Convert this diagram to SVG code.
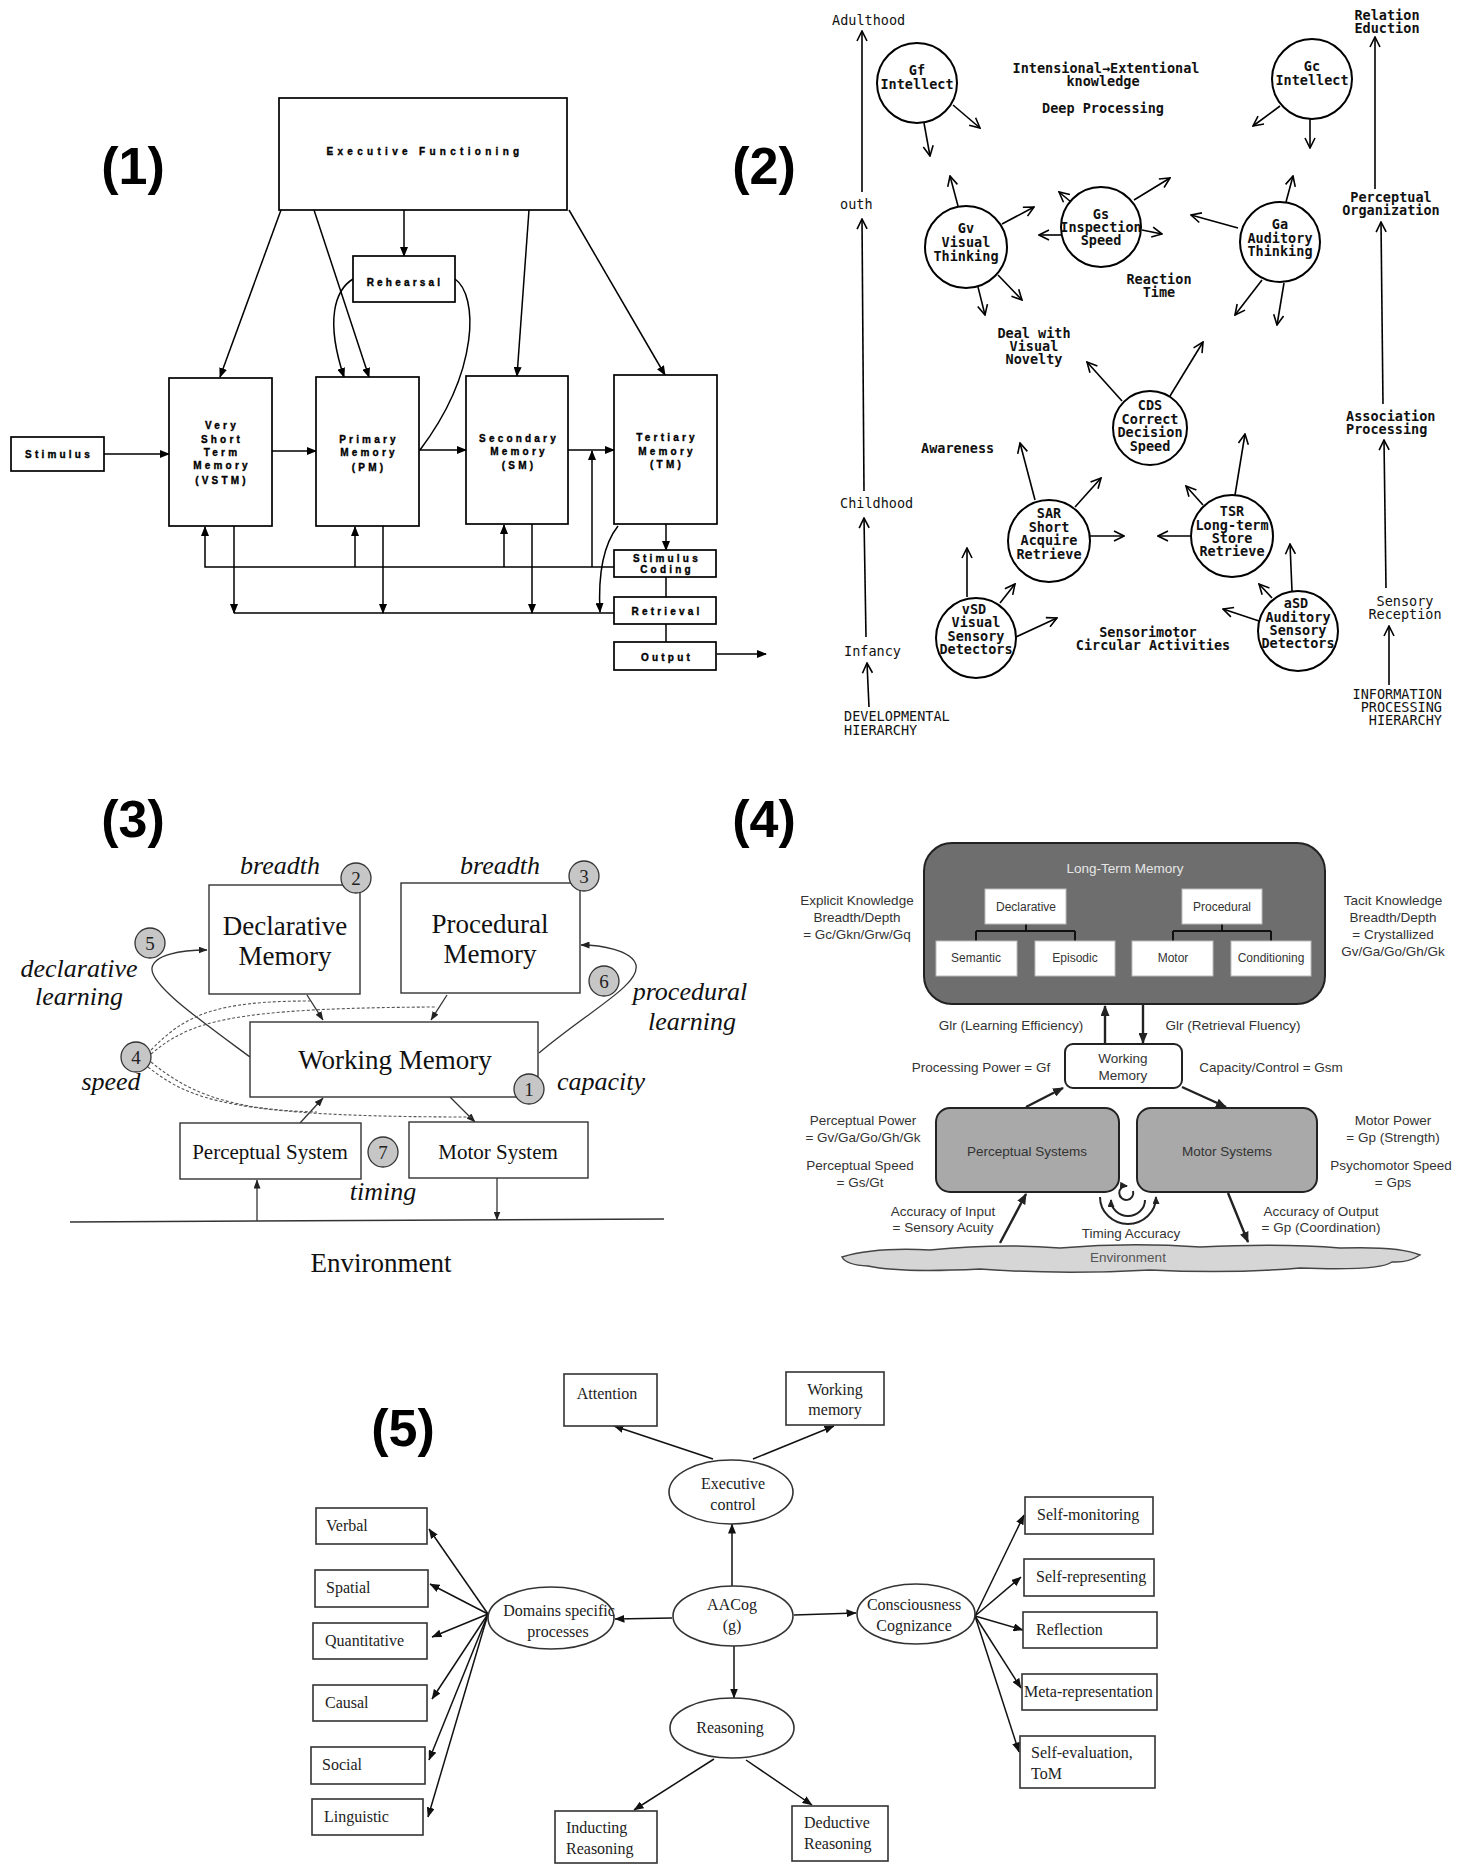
<svg xmlns="http://www.w3.org/2000/svg" width="1463" height="1865" viewBox="0 0 1463 1865">
<defs>
<style>
.lbl{font-family:"Liberation Sans",Arial,sans-serif;font-weight:bold;font-size:52px;text-anchor:middle;fill:#000}
.b1{fill:#fff;stroke:#000;stroke-width:1.7}
.t1{font-family:"Liberation Sans",Arial,sans-serif;font-weight:bold;font-size:10px;letter-spacing:3.2px;text-anchor:middle;fill:#000;stroke:#000;stroke-width:0.35}
.c1{fill:none;stroke:#000;stroke-width:1.5}
.n2{fill:#fff;stroke:#000;stroke-width:2}
.t2{font-family:"DejaVu Sans Mono","Liberation Mono",monospace;font-weight:bold;font-size:13.5px;fill:#111;text-anchor:middle}
.t2n{font-family:"DejaVu Sans Mono","Liberation Mono",monospace;font-size:13.5px;fill:#111}
.c2{fill:none;stroke:#000;stroke-width:1.6}
.b3{fill:#fff;stroke:#333;stroke-width:1.4}
.k3{fill:#c6c6c6;stroke:#333;stroke-width:1.3}
.t3{font-family:"Liberation Serif","Times New Roman",serif;font-size:27px;fill:#111;text-anchor:middle}
.i3{font-family:"Liberation Serif","Times New Roman",serif;font-style:italic;font-size:26px;fill:#111;text-anchor:middle}
.s3{font-family:"Liberation Serif","Times New Roman",serif;font-size:21px;fill:#111;text-anchor:middle}
.n3{font-family:"Liberation Serif","Times New Roman",serif;font-size:19px;fill:#222;text-anchor:middle}
.c3{fill:none;stroke:#333;stroke-width:1.3}
.d3{fill:none;stroke:#555;stroke-width:1.1;stroke-dasharray:3 2}
.t4{font-family:"Liberation Sans",Arial,sans-serif;font-size:13.5px;fill:#333;text-anchor:middle}
.s4{font-family:"Liberation Sans",Arial,sans-serif;font-size:12px;fill:#333;text-anchor:middle}
.wb4{fill:#fff;stroke:#bbb;stroke-width:1}
.c4{fill:none;stroke:#222;stroke-width:2.4}
.b5{fill:#fff;stroke:#333;stroke-width:1.6}
.t5{font-family:"Liberation Serif","Times New Roman",serif;font-size:16px;fill:#222}
.m5{font-family:"Liberation Serif","Times New Roman",serif;font-size:16px;fill:#222;text-anchor:middle}
.c5{fill:none;stroke:#111;stroke-width:1.5}
</style>
<marker id="a1" viewBox="0 0 10 8" refX="9" refY="4" markerWidth="10" markerHeight="8" markerUnits="userSpaceOnUse" orient="auto"><path d="M0,0 L10,4 L0,8 z" fill="#000"/></marker>
<marker id="a2" viewBox="0 0 12 12" refX="11" refY="6" markerWidth="12" markerHeight="12" markerUnits="userSpaceOnUse" orient="auto"><path d="M1,1 L11,6 L1,11" fill="none" stroke="#000" stroke-width="1.6"/></marker>
<marker id="a3" viewBox="0 0 9 7" refX="8.5" refY="3.5" markerWidth="9" markerHeight="7" markerUnits="userSpaceOnUse" orient="auto"><path d="M0,0 L9,3.5 L0,7 z" fill="#222"/></marker>
<marker id="a4" viewBox="0 0 11 9" refX="10" refY="4.5" markerWidth="11" markerHeight="9" markerUnits="userSpaceOnUse" orient="auto-start-reverse"><path d="M0,0 L11,4.5 L0,9 z" fill="#222"/></marker>
<marker id="a4s" viewBox="0 0 8 7" refX="7" refY="3.5" markerWidth="8" markerHeight="7" markerUnits="userSpaceOnUse" orient="auto-start-reverse"><path d="M0,0 L8,3.5 L0,7 z" fill="#222"/></marker>
<marker id="a5" viewBox="0 0 10 8" refX="9.5" refY="4" markerWidth="10" markerHeight="8" markerUnits="userSpaceOnUse" orient="auto"><path d="M0,0 L10,4 L0,8 z" fill="#111"/></marker>
</defs>
<rect width="1463" height="1865" fill="#fff"/>

<g id="labels">
<text class="lbl" x="133" y="184">(1)</text>
<text class="lbl" x="764" y="184">(2)</text>
<text class="lbl" x="133" y="837">(3)</text>
<text class="lbl" x="764" y="837">(4)</text>
<text class="lbl" x="403" y="1446">(5)</text>
</g>

<!-- PANEL 1 -->
<g id="p1-connectors">
<path class="c1" d="M104,454 L169,454" marker-end="url(#a1)"/>
<path class="c1" d="M272,451 L316,451" marker-end="url(#a1)"/>
<path class="c1" d="M419,450 L466,450" marker-end="url(#a1)"/>
<path class="c1" d="M568,450 L614,450" marker-end="url(#a1)"/>
<path class="c1" d="M281,210 L220,377" marker-end="url(#a1)"/>
<path class="c1" d="M314,210 L369,377" marker-end="url(#a1)"/>
<path class="c1" d="M404,210 L404,256" marker-end="url(#a1)"/>
<path class="c1" d="M529,210 L517,376" marker-end="url(#a1)"/>
<path class="c1" d="M569,210 L665,375" marker-end="url(#a1)"/>
<path class="c1" d="M353,279 C335,290 325,320 344,377" marker-end="url(#a1)"/>
<path class="c1" d="M455,279 C478,295 480,370 420,450"/>
<path class="c1" d="M614,567 L205,567 L205,527" marker-end="url(#a1)"/>
<path class="c1" d="M355,567 L355,527" marker-end="url(#a1)"/>
<path class="c1" d="M504,567 L504,525" marker-end="url(#a1)"/>
<path class="c1" d="M592,567 L592,451" marker-end="url(#a1)"/>
<path class="c1" d="M614,613 L234,613"/>
<path class="c1" d="M234,526 L234,613" marker-end="url(#a1)"/>
<path class="c1" d="M383,526 L383,613" marker-end="url(#a1)"/>
<path class="c1" d="M532,524 L532,613" marker-end="url(#a1)"/>
<path class="c1" d="M618,526 C603,545 598,575 600,612" marker-end="url(#a1)"/>
<path class="c1" d="M666,524 L666,550" marker-end="url(#a1)"/>
<path class="c1" d="M666,577 L666,597"/>
<path class="c1" d="M666,624 L666,642"/>
<path class="c1" d="M717,654 L766,654" marker-end="url(#a1)"/>
</g>
<g id="p1-exec"><rect class="b1" x="279" y="98" width="288" height="112"/><text class="t1" x="425" y="155" style="letter-spacing:4.3px">Executive Functioning</text></g>
<g id="p1-rehearsal"><rect class="b1" x="353" y="256" width="102" height="46"/><text class="t1" x="405" y="286">Rehearsal</text></g>
<g id="p1-stimulus"><rect class="b1" x="11" y="437" width="93" height="34"/><text class="t1" x="59" y="458">Stimulus</text></g>
<g id="p1-vstm"><rect class="b1" x="169" y="378" width="103" height="148"/>
<text class="t1" x="222" y="429">Very</text><text class="t1" x="222" y="443">Short</text><text class="t1" x="222" y="456">Term</text><text class="t1" x="222" y="469">Memory</text><text class="t1" x="222" y="484">(VSTM)</text></g>
<g id="p1-pm"><rect class="b1" x="316" y="377" width="103" height="149"/>
<text class="t1" x="369" y="443">Primary</text><text class="t1" x="369" y="456">Memory</text><text class="t1" x="369" y="471">(PM)</text></g>
<g id="p1-sm"><rect class="b1" x="466" y="376" width="102" height="148"/>
<text class="t1" x="519" y="442">Secondary</text><text class="t1" x="519" y="455">Memory</text><text class="t1" x="519" y="469">(SM)</text></g>
<g id="p1-tm"><rect class="b1" x="614" y="375" width="103" height="149"/>
<text class="t1" x="667" y="441">Tertiary</text><text class="t1" x="667" y="455">Memory</text><text class="t1" x="667" y="468">(TM)</text></g>
<g id="p1-coding"><rect class="b1" x="614" y="550" width="102" height="27"/><text class="t1" x="667" y="562">Stimulus</text><text class="t1" x="667" y="573">Coding</text></g>
<g id="p1-retrieval"><rect class="b1" x="614" y="597" width="102" height="27"/><text class="t1" x="667" y="615">Retrieval</text></g>
<g id="p1-output"><rect class="b1" x="614" y="642" width="102" height="28"/><text class="t1" x="667" y="661">Output</text></g>

<!-- PANEL 2 -->
<g id="p2-connectors">
<path class="c2" d="M869,707 L867,663" marker-end="url(#a2)"/>
<path class="c2" d="M866,637 L864,518" marker-end="url(#a2)"/>
<path class="c2" d="M864,491 L862,219" marker-end="url(#a2)"/>
<path class="c2" d="M862,192 L862,31" marker-end="url(#a2)"/>
<path class="c2" d="M1389,685 L1389,626" marker-end="url(#a2)"/>
<path class="c2" d="M1386,588 L1384,440" marker-end="url(#a2)"/>
<path class="c2" d="M1383,404 L1381,222" marker-end="url(#a2)"/>
<path class="c2" d="M1375,189 L1375,37" marker-end="url(#a2)"/>
<path class="c2" d="M953,105 L980,128" marker-end="url(#a2)"/>
<path class="c2" d="M924,123 L930,156" marker-end="url(#a2)"/>
<path class="c2" d="M1280,106 L1253,126" marker-end="url(#a2)"/>
<path class="c2" d="M1310,119 L1310,148" marker-end="url(#a2)"/>
<path class="c2" d="M958,206 L950,176" marker-end="url(#a2)"/>
<path class="c2" d="M1002,224 L1034,207" marker-end="url(#a2)"/>
<path class="c2" d="M998,275 L1022,300" marker-end="url(#a2)"/>
<path class="c2" d="M978,287 L985,315" marker-end="url(#a2)"/>
<path class="c2" d="M1062,235 L1039,235" marker-end="url(#a2)"/>
<path class="c2" d="M1134,200 L1170,178" marker-end="url(#a2)"/>
<path class="c2" d="M1071,202 L1059,192" marker-end="url(#a2)"/>
<path class="c2" d="M1142,230 L1162,234" marker-end="url(#a2)"/>
<path class="c2" d="M1238,228 L1191,215" marker-end="url(#a2)"/>
<path class="c2" d="M1286,202 L1293,176" marker-end="url(#a2)"/>
<path class="c2" d="M1262,280 L1235,315" marker-end="url(#a2)"/>
<path class="c2" d="M1284,283 L1277,325" marker-end="url(#a2)"/>
<path class="c2" d="M1122,401 L1087,362" marker-end="url(#a2)"/>
<path class="c2" d="M1170,396 L1203,342" marker-end="url(#a2)"/>
<path class="c2" d="M1035,500 L1020,443" marker-end="url(#a2)"/>
<path class="c2" d="M1075,507 L1101,478" marker-end="url(#a2)"/>
<path class="c2" d="M1090,536 L1124,536" marker-end="url(#a2)"/>
<path class="c2" d="M1191,536 L1158,536" marker-end="url(#a2)"/>
<path class="c2" d="M1235,495 L1245,434" marker-end="url(#a2)"/>
<path class="c2" d="M1203,505 L1186,486" marker-end="url(#a2)"/>
<path class="c2" d="M967,597 L967,548" marker-end="url(#a2)"/>
<path class="c2" d="M1000,603 L1015,584" marker-end="url(#a2)"/>
<path class="c2" d="M1016,637 L1057,618" marker-end="url(#a2)"/>
<path class="c2" d="M1292,591 L1290,544" marker-end="url(#a2)"/>
<path class="c2" d="M1272,598 L1259,584" marker-end="url(#a2)"/>
<path class="c2" d="M1259,621 L1223,609" marker-end="url(#a2)"/>
</g>
<g id="p2-gf"><circle class="n2" cx="917" cy="83" r="40"/><text class="t2" x="917" y="75">Gf</text><text class="t2" x="917" y="89">Intellect</text></g>
<g id="p2-gc"><circle class="n2" cx="1312" cy="79" r="40"/><text class="t2" x="1312" y="71">Gc</text><text class="t2" x="1312" y="85">Intellect</text></g>
<g id="p2-gv"><circle class="n2" cx="966" cy="247" r="41"/><text class="t2" x="966" y="233">Gv</text><text class="t2" x="966" y="247">Visual</text><text class="t2" x="966" y="261">Thinking</text></g>
<g id="p2-gs"><circle class="n2" cx="1101" cy="227" r="40"/><text class="t2" x="1101" y="219">Gs</text><text class="t2" x="1101" y="232">Inspection</text><text class="t2" x="1101" y="245">Speed</text></g>
<g id="p2-ga"><circle class="n2" cx="1280" cy="242" r="40"/><text class="t2" x="1280" y="229">Ga</text><text class="t2" x="1280" y="243">Auditory</text><text class="t2" x="1280" y="256">Thinking</text></g>
<g id="p2-cds"><circle class="n2" cx="1150" cy="428" r="37"/><text class="t2" x="1150" y="410">CDS</text><text class="t2" x="1150" y="424">Correct</text><text class="t2" x="1150" y="437">Decision</text><text class="t2" x="1150" y="451">Speed</text></g>
<g id="p2-sar"><circle class="n2" cx="1049" cy="541" r="41"/><text class="t2" x="1049" y="518">SAR</text><text class="t2" x="1049" y="532">Short</text><text class="t2" x="1049" y="545">Acquire</text><text class="t2" x="1049" y="559">Retrieve</text></g>
<g id="p2-tsr"><circle class="n2" cx="1232" cy="536" r="41"/><text class="t2" x="1232" y="516">TSR</text><text class="t2" x="1232" y="530">Long-term</text><text class="t2" x="1232" y="543">Store</text><text class="t2" x="1232" y="556">Retrieve</text></g>
<g id="p2-vsd"><circle class="n2" cx="976" cy="638" r="40"/><text class="t2" x="974" y="614">vSD</text><text class="t2" x="976" y="627">Visual</text><text class="t2" x="976" y="641">Sensory</text><text class="t2" x="976" y="654">Detectors</text></g>
<g id="p2-asd"><circle class="n2" cx="1298" cy="631" r="40"/><text class="t2" x="1296" y="608">aSD</text><text class="t2" x="1298" y="622">Auditory</text><text class="t2" x="1298" y="635">Sensory</text><text class="t2" x="1298" y="648">Detectors</text></g>
<g id="p2-texts">
<text class="t2n" x="832" y="25">Adulthood</text>
<text class="t2n" x="840" y="209">outh</text>
<text class="t2n" x="840" y="508">Childhood</text>
<text class="t2n" x="844" y="656">Infancy</text>
<text class="t2n" x="844" y="721">DEVELOPMENTAL</text>
<text class="t2n" x="844" y="735">HIERARCHY</text>
<text class="t2" x="1387" y="20">Relation</text><text class="t2" x="1387" y="33">Eduction</text>
<text class="t2" x="1391" y="202">Perceptual</text><text class="t2" x="1391" y="215">Organization</text>
<text class="t2" x="1346" y="421" style="text-anchor:start">Association</text><text class="t2" x="1346" y="434" style="text-anchor:start">Processing</text>
<text class="t2n" x="1405" y="606" style="text-anchor:middle">Sensory</text><text class="t2n" x="1405" y="619" style="text-anchor:middle">Reception</text>
<text class="t2n" x="1442" y="699" style="text-anchor:end">INFORMATION</text><text class="t2n" x="1442" y="712" style="text-anchor:end">PROCESSING</text><text class="t2n" x="1442" y="725" style="text-anchor:end">HIERARCHY</text>
<text class="t2" x="1106" y="73">Intensional→Extentional</text>
<text class="t2" x="1103" y="86">knowledge</text>
<text class="t2" x="1103" y="113">Deep Processing</text>
<text class="t2" x="1159" y="284">Reaction</text><text class="t2" x="1159" y="297">Time</text>
<text class="t2" x="1034" y="338">Deal with</text><text class="t2" x="1034" y="351">Visual</text><text class="t2" x="1034" y="364">Novelty</text>
<text class="t2" x="921" y="453" style="text-anchor:start">Awareness</text>
<text class="t2" x="1148" y="637">Sensorimotor</text><text class="t2" x="1153" y="650">Circular Activities</text>
</g>

<!-- PANEL 3 -->
<g id="p3-connectors">
<path class="c3" d="M307,995 L323,1020" marker-end="url(#a3)"/>
<path class="c3" d="M447,995 L431,1020" marker-end="url(#a3)"/>
<path class="c3" d="M300,1123 L323,1098" marker-end="url(#a3)"/>
<path class="c3" d="M450,1097 L475,1122" marker-end="url(#a3)"/>
<path class="c3" d="M257,1221 L257,1180" marker-end="url(#a3)"/>
<path class="c3" d="M497,1178 L497,1220" marker-end="url(#a3)"/>
<path class="c3" d="M250,1057 C200,1020 150,985 152,968 C154,955 180,950 207,950" marker-end="url(#a3)"/>
<path class="c3" d="M539,1053 C590,1010 640,985 636,965 C632,950 600,945 581,945" marker-end="url(#a3)"/>
<path class="d3" d="M151,1050 C185,1015 215,1001 310,1001"/>
<path class="d3" d="M151,1054 C190,1022 225,1008 437,1007"/>
<path class="d3" d="M151,1062 C185,1090 225,1110 317,1112"/>
<path class="d3" d="M148,1067 C190,1100 230,1117 473,1117"/>
<path d="M70,1222 L664,1219" fill="none" stroke="#333" stroke-width="1.6"/>
</g>
<g id="p3-declarative"><rect class="b3" x="209" y="885" width="151" height="109"/><text class="t3" x="285" y="935">Declarative</text><text class="t3" x="285" y="965">Memory</text></g>
<g id="p3-procedural"><rect class="b3" x="401" y="883" width="179" height="110"/><text class="t3" x="490" y="933">Procedural</text><text class="t3" x="490" y="963">Memory</text></g>
<g id="p3-wm"><rect class="b3" x="250" y="1022" width="288" height="75"/><text class="t3" x="395" y="1069">Working Memory</text></g>
<g id="p3-perceptual"><rect class="b3" x="180" y="1123" width="181" height="56"/><text class="s3" x="270" y="1159">Perceptual System</text></g>
<g id="p3-motor"><rect class="b3" x="409" y="1122" width="179" height="56"/><text class="s3" x="498" y="1159">Motor System</text></g>
<g id="p3-labels">
<text class="i3" x="280" y="874">breadth</text>
<text class="i3" x="500" y="874">breadth</text>
<text class="i3" x="79" y="977">declarative</text>
<text class="i3" x="79" y="1005">learning</text>
<text class="i3" x="690" y="1000">procedural</text>
<text class="i3" x="692" y="1030">learning</text>
<text class="i3" x="111" y="1090">speed</text>
<text class="i3" x="601" y="1090">capacity</text>
<text class="i3" x="383" y="1200">timing</text>
<text class="t3" x="381" y="1272">Environment</text>
</g>
<g id="p3-c1"><circle class="k3" cx="529" cy="1089" r="15"/><text class="n3" x="529" y="1096">1</text></g>
<g id="p3-c2"><circle class="k3" cx="356" cy="878" r="15"/><text class="n3" x="356" y="885">2</text></g>
<g id="p3-c3"><circle class="k3" cx="584" cy="876" r="15"/><text class="n3" x="584" y="883">3</text></g>
<g id="p3-c4"><circle class="k3" cx="136" cy="1057" r="15"/><text class="n3" x="136" y="1064">4</text></g>
<g id="p3-c5"><circle class="k3" cx="150" cy="943" r="15"/><text class="n3" x="150" y="950">5</text></g>
<g id="p3-c6"><circle class="k3" cx="604" cy="981" r="15"/><text class="n3" x="604" y="988">6</text></g>
<g id="p3-c7"><circle class="k3" cx="383" cy="1152" r="15"/><text class="n3" x="383" y="1159">7</text></g>

<!-- PANEL 4 -->
<g id="p4-ltm"><rect x="924" y="843" width="401" height="161" rx="28" fill="#6e6e6e" stroke="#222" stroke-width="2"/>
<text class="t4" x="1125" y="873" style="fill:#e6e6e6">Long-Term Memory</text></g>
<g id="p4-tree"><path d="M1026,924 V931 M976,931 H1075 M976,931 V941 M1075,931 V941 M1222,924 V931 M1173,931 H1271 M1173,931 V941 M1271,931 V941" fill="none" stroke="#111" stroke-width="2"/></g>
<g id="p4-declarative"><rect class="wb4" x="985" y="889" width="81" height="35"/><text class="s4" x="1026" y="911">Declarative</text></g>
<g id="p4-procedural"><rect class="wb4" x="1182" y="889" width="80" height="35"/><text class="s4" x="1222" y="911">Procedural</text></g>
<g id="p4-semantic"><rect class="wb4" x="936" y="941" width="81" height="35"/><text class="s4" x="976" y="962">Semantic</text></g>
<g id="p4-episodic"><rect class="wb4" x="1035" y="941" width="80" height="35"/><text class="s4" x="1075" y="962">Episodic</text></g>
<g id="p4-motor"><rect class="wb4" x="1132" y="941" width="81" height="35"/><text class="s4" x="1173" y="962">Motor</text></g>
<g id="p4-conditioning"><rect class="wb4" x="1231" y="941" width="80" height="35"/><text class="s4" x="1271" y="962">Conditioning</text></g>
<g id="p4-wm"><rect x="1065" y="1044" width="117" height="44" rx="8" fill="#fff" stroke="#222" stroke-width="2"/><text class="t4" x="1123" y="1063">Working</text><text class="t4" x="1123" y="1080">Memory</text></g>
<g id="p4-perceptual"><rect x="936" y="1108" width="183" height="84" rx="14" fill="#a9a9a9" stroke="#222" stroke-width="2"/><text class="t4" x="1027" y="1156">Perceptual Systems</text></g>
<g id="p4-motorsys"><rect x="1137" y="1108" width="180" height="84" rx="14" fill="#a9a9a9" stroke="#222" stroke-width="2"/><text class="t4" x="1227" y="1156">Motor Systems</text></g>
<g id="p4-environment">
<path d="M842,1257 Q875,1247 930,1250 Q1000,1243 1060,1248 Q1130,1242 1200,1247 Q1280,1243 1340,1248 Q1400,1246 1420,1255 Q1408,1263 1392,1262 Q1380,1271 1300,1268 Q1230,1274 1150,1270 Q1060,1275 980,1269 Q900,1273 868,1266 Q846,1265 842,1257 Z" fill="#d6d6d6" stroke="#444" stroke-width="1.5"/>
<text class="t4" x="1128" y="1262" style="fill:#555">Environment</text></g>
<g id="p4-connectors">
<path class="c4" d="M1105,1044 L1105,1006" marker-end="url(#a4)"/>
<path class="c4" d="M1143,1004 L1143,1043" marker-end="url(#a4)"/>
<path class="c4" d="M1026,1107 L1063,1088" marker-end="url(#a4)"/>
<path class="c4" d="M1182,1087 L1226,1107" marker-end="url(#a4)"/>
<path class="c4" d="M1000,1243 L1026,1194" marker-end="url(#a4)"/>
<path class="c4" d="M1228,1193 L1248,1242" marker-end="url(#a4)"/>
<path d="M1133,1191 A7,7 0 1 1 1127,1186" fill="none" stroke="#222" stroke-width="2" marker-end="url(#a4s)"/>
<path d="M1111,1200 A17,16 0 0 0 1145,1200" fill="none" stroke="#222" stroke-width="2" marker-start="url(#a4s)"/>
<path d="M1100,1197 A28,27 0 0 0 1156,1197" fill="none" stroke="#222" stroke-width="2" marker-end="url(#a4s)"/>
</g>
<g id="p4-labels">
<text class="t4" x="857" y="905">Explicit Knowledge</text><text class="t4" x="857" y="922">Breadth/Depth</text><text class="t4" x="857" y="939">= Gc/Gkn/Grw/Gq</text>
<text class="t4" x="1393" y="905">Tacit Knowledge</text><text class="t4" x="1393" y="922">Breadth/Depth</text><text class="t4" x="1393" y="939">= Crystallized</text><text class="t4" x="1393" y="956">Gv/Ga/Go/Gh/Gk</text>
<text class="t4" x="1011" y="1030">Glr (Learning Efficiency)</text>
<text class="t4" x="1233" y="1030">Glr (Retrieval Fluency)</text>
<text class="t4" x="981" y="1072">Processing Power = Gf</text>
<text class="t4" x="1271" y="1072">Capacity/Control = Gsm</text>
<text class="t4" x="863" y="1125">Perceptual Power</text><text class="t4" x="863" y="1142">= Gv/Ga/Go/Gh/Gk</text>
<text class="t4" x="860" y="1170">Perceptual Speed</text><text class="t4" x="860" y="1187">= Gs/Gt</text>
<text class="t4" x="1393" y="1125">Motor Power</text><text class="t4" x="1393" y="1142">= Gp (Strength)</text>
<text class="t4" x="1391" y="1170">Psychomotor Speed</text><text class="t4" x="1393" y="1187">= Gps</text>
<text class="t4" x="943" y="1216">Accuracy of Input</text><text class="t4" x="943" y="1232">= Sensory Acuity</text>
<text class="t4" x="1321" y="1216">Accuracy of Output</text><text class="t4" x="1321" y="1232">= Gp (Coordination)</text>
<text class="t4" x="1131" y="1238">Timing Accuracy</text>
</g>

<!-- PANEL 5 -->
<g id="p5-connectors">
<path class="c5" d="M713,1459 L614,1426" marker-end="url(#a5)"/>
<path class="c5" d="M753,1459 L834,1426" marker-end="url(#a5)"/>
<path class="c5" d="M732,1586 L732,1524" marker-end="url(#a5)"/>
<path class="c5" d="M734,1646 L734,1698" marker-end="url(#a5)"/>
<path class="c5" d="M714,1759 L634,1810" marker-end="url(#a5)"/>
<path class="c5" d="M746,1760 L812,1805" marker-end="url(#a5)"/>
<path class="c5" d="M672,1618 L615,1619" marker-end="url(#a5)"/>
<path class="c5" d="M794,1615 L856,1613" marker-end="url(#a5)"/>
<path class="c5" d="M488,1614 L429,1529" marker-end="url(#a5)"/>
<path class="c5" d="M488,1614 L430,1584" marker-end="url(#a5)"/>
<path class="c5" d="M488,1614 L432,1637" marker-end="url(#a5)"/>
<path class="c5" d="M488,1614 L432,1699" marker-end="url(#a5)"/>
<path class="c5" d="M488,1614 L429,1760" marker-end="url(#a5)"/>
<path class="c5" d="M488,1614 L428,1817" marker-end="url(#a5)"/>
<path class="c5" d="M975,1616 L1024,1515" marker-end="url(#a5)"/>
<path class="c5" d="M975,1616 L1021,1577" marker-end="url(#a5)"/>
<path class="c5" d="M975,1616 L1023,1630" marker-end="url(#a5)"/>
<path class="c5" d="M975,1616 L1021,1688" marker-end="url(#a5)"/>
<path class="c5" d="M975,1616 L1019,1752" marker-end="url(#a5)"/>
</g>
<g id="p5-attention"><rect class="b5" x="564" y="1374" width="93" height="52"/><text class="m5" x="607" y="1399">Attention</text></g>
<g id="p5-workingmemory"><rect class="b5" x="786" y="1372" width="98" height="53"/><text class="m5" x="835" y="1395">Working</text><text class="m5" x="835" y="1415">memory</text></g>
<g id="p5-executive"><ellipse class="b5" cx="731" cy="1492" rx="62" ry="32"/><text class="m5" x="733" y="1489">Executive</text><text class="m5" x="733" y="1510">control</text></g>
<g id="p5-aacog"><ellipse class="b5" cx="733" cy="1616" rx="60" ry="30"/><text class="m5" x="732" y="1610">AACog</text><text class="m5" x="732" y="1631">(g)</text></g>
<g id="p5-reasoning"><ellipse class="b5" cx="732" cy="1728" rx="62" ry="30"/><text class="m5" x="730" y="1733">Reasoning</text></g>
<g id="p5-domains"><ellipse class="b5" cx="551" cy="1618" rx="63" ry="31"/><text class="m5" x="559" y="1616">Domains specific</text><text class="m5" x="558" y="1637">processes</text></g>
<g id="p5-consciousness"><ellipse class="b5" cx="916" cy="1614" rx="59" ry="30"/><text class="m5" x="914" y="1610">Consciousness</text><text class="m5" x="914" y="1631">Cognizance</text></g>
<g id="p5-verbal"><rect class="b5" x="316" y="1508" width="111" height="36"/><text class="t5" x="326" y="1531">Verbal</text></g>
<g id="p5-spatial"><rect class="b5" x="315" y="1570" width="113" height="37"/><text class="t5" x="326" y="1593">Spatial</text></g>
<g id="p5-quantitative"><rect class="b5" x="313" y="1623" width="114" height="36"/><text class="t5" x="325" y="1646">Quantitative</text></g>
<g id="p5-causal"><rect class="b5" x="313" y="1685" width="114" height="36"/><text class="t5" x="325" y="1708">Causal</text></g>
<g id="p5-social"><rect class="b5" x="311" y="1747" width="114" height="37"/><text class="t5" x="322" y="1770">Social</text></g>
<g id="p5-linguistic"><rect class="b5" x="312" y="1799" width="111" height="36"/><text class="t5" x="324" y="1822">Linguistic</text></g>
<g id="p5-selfmonitoring"><rect class="b5" x="1025" y="1497" width="128" height="37"/><text class="t5" x="1037" y="1520">Self-monitoring</text></g>
<g id="p5-selfrepresenting"><rect class="b5" x="1024" y="1559" width="130" height="37"/><text class="t5" x="1036" y="1582">Self-representing</text></g>
<g id="p5-reflection"><rect class="b5" x="1023" y="1612" width="134" height="36"/><text class="t5" x="1036" y="1635">Reflection</text></g>
<g id="p5-metarep"><rect class="b5" x="1022" y="1674" width="135" height="36"/><text class="t5" x="1024" y="1697">Meta-representation</text></g>
<g id="p5-selfeval"><rect class="b5" x="1020" y="1736" width="135" height="52"/><text class="t5" x="1031" y="1758">Self-evaluation,</text><text class="t5" x="1031" y="1779">ToM</text></g>
<g id="p5-inducting"><rect class="b5" x="555" y="1811" width="102" height="52"/><text class="t5" x="566" y="1833">Inducting</text><text class="t5" x="566" y="1854">Reasoning</text></g>
<g id="p5-deductive"><rect class="b5" x="792" y="1806" width="96" height="55"/><text class="t5" x="804" y="1828">Deductive</text><text class="t5" x="804" y="1849">Reasoning</text></g>
</svg>
